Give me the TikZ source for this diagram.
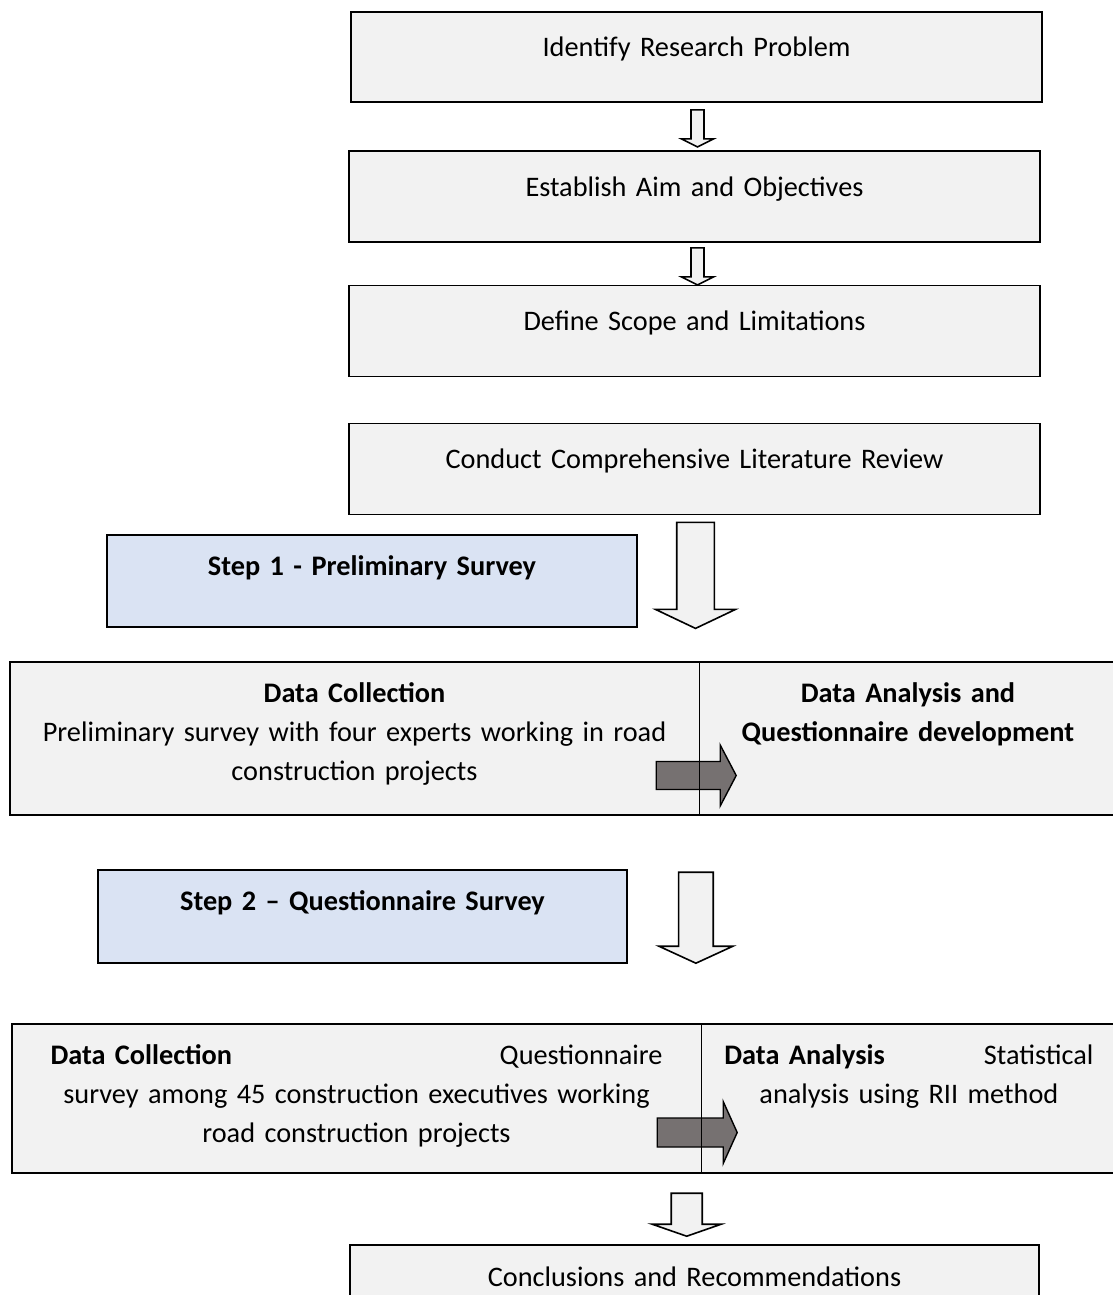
\documentclass[tikz,border=0pt]{standalone}
\usepackage{fontspec}
\setmainfont{Carlito}
\usetikzlibrary{positioning, calc}
\definecolor{boxgrey}{HTML}{F2F2F2}
\definecolor{stepblue}{HTML}{DAE3F3}
\definecolor{arrowgrey}{HTML}{767171}

\begin{document}
\begin{tikzpicture}[
                    x=1pt, y=-1pt,
                    every node/.style={font=\fontsize{28.3}{39}\selectfont},
                    block/.style={rectangle, draw, line width=1.8pt, fill=boxgrey, inner sep=0pt, text width=691pt, align=center, text height=45pt, text depth=46pt},
                    stepbox/.style={block, fill=stepblue, text width=530pt, text height=40pt, text depth=52pt, font=\fontsize{28.3}{39}\selectfont\bfseries},
                    half/.style={rectangle, fill=boxgrey, inner sep=0pt, align=center, text height=40pt},
                    hollow/.style={draw, line width=1.6pt, fill=boxgrey, line join=miter},
                    greyarrow/.style={draw, line width=1.4pt, fill=arrowgrey, line join=miter}
                ]
                    \useasboundingbox (0,0) rectangle (1112,1295);

                    \node [block, text depth=45pt] (idp) at (696.5,57) {Identify Research Problem};
                    \node [block, below of=idp, node distance=139.5pt, xshift=-2pt] (aim) {Establish Aim and Objectives};
                    \node [block, below of=aim, node distance=134.5pt] (scope) {Define Scope and Limitations};
                    \node [block, below of=scope, node distance=138pt] (litrev) {Conduct Comprehensive Literature Review};

                    \node [stepbox, below of=litrev, node distance=112pt, xshift=-322.5pt] (step1) {Step 1 - Preliminary Survey};

                    % Step 1 row
                    \node [half, text width=689pt, text depth=113pt, below of=step1, node distance=157.5pt, xshift=-17.5pt] (dc1) {\textbf{Data Collection}\\Preliminary survey with four experts working in road\\construction projects};
                    \node [half, text width=409pt, minimum width=417pt, text depth=113pt, right=0pt of dc1, font=\fontsize{28.3}{39}\selectfont\bfseries] (da1) {Data Analysis and\\Questionnaire development};

                    \node [stepbox, text width=529pt, text depth=53pt, below of=dc1, node distance=178pt, xshift=8pt] (step2) {Step 2 – Questionnaire Survey};

                    % Step 2 row
                    \node [half, text width=612pt, minimum width=689pt, text depth=109pt, below of=step2, node distance=182pt, xshift=-6pt] (dc2) {\makebox[612pt]{\textbf{Data Collection}\hfill Questionnaire}\\survey among 45 construction executives working\\road construction projects};
                    \node [half, text width=369pt, minimum width=415pt, text depth=109pt, right=0pt of dc2] (da2) {\makebox[369pt]{\textbf{Data Analysis}\hfill Statistical}\\analysis using RII method};

                    \node [block, text width=689pt, text height=41pt, text depth=50pt, below of=dc2, node distance=192pt, xshift=338pt] (concl) {Conclusions and Recommendations};

                    % Block arrows down
                    \draw [hollow] ($(idp.south)+(1,7)$) -- ++(6.5,0) -- ++(0,29) -- ++(9.5,0) -- ++(-16,8) -- ++(-16,-8) -- ++(9.5,0) -- ++(0,-29) -- cycle;
                    \draw [hollow] ($(aim.south)+(3,5)$) -- ++(6.5,0) -- ++(0,29) -- ++(9.5,0) -- ++(-16,8) -- ++(-16,-8) -- ++(9.5,0) -- ++(0,-29) -- cycle;
                    \draw [hollow] ($(litrev.south)+(1,7)$) -- ++(18.8,0) -- ++(0,87) -- ++(21.2,0) -- ++(-40,19) -- ++(-40,-19) -- ++(21.2,0) -- ++(0,-87) -- cycle;
                    \draw [hollow] ($(dc1.south east)+(-3.3,57)$) -- ++(17.3,0) -- ++(0,74) -- ++(19.7,0) -- ++(-37,17) -- ++(-37,-17) -- ++(19.7,0) -- ++(0,-74) -- cycle;
                    \draw [hollow] ($(dc2.south east)+(-14.5,20)$) -- ++(15.5,0) -- ++(0,31) -- ++(19,0) -- ++(-34.5,12) -- ++(-34.5,-12) -- ++(19,0) -- ++(0,-31) -- cycle;

                    % Collection to analysis
                    \draw [greyarrow] ($(dc1.east)+(-43,37)$) -- ++(0,-14) -- ++(64,0) -- ++(0,-16.5) -- ++(16,30.5) -- ++(-16,30.5) -- ++(0,-16.5) -- ++(-64,0) -- cycle;
                    \draw [greyarrow] ($(dc2.east)+(-44,34)$) -- ++(0,-14.5) -- ++(66,0) -- ++(0,-16.5) -- ++(14,31) -- ++(-14,31) -- ++(0,-16.5) -- ++(-66,0) -- cycle;

                    % Row frames
                    \draw [line width=1.8pt] (dc1.north west) rectangle (da1.south east);
                    \draw [line width=1pt] (dc1.north east) -- (dc1.south east);
                    \draw [line width=1.8pt] (dc2.north west) rectangle (da2.south east);
                    \draw [line width=1pt] (dc2.north east) -- (dc2.south east);
                \end{tikzpicture}
\end{document}
